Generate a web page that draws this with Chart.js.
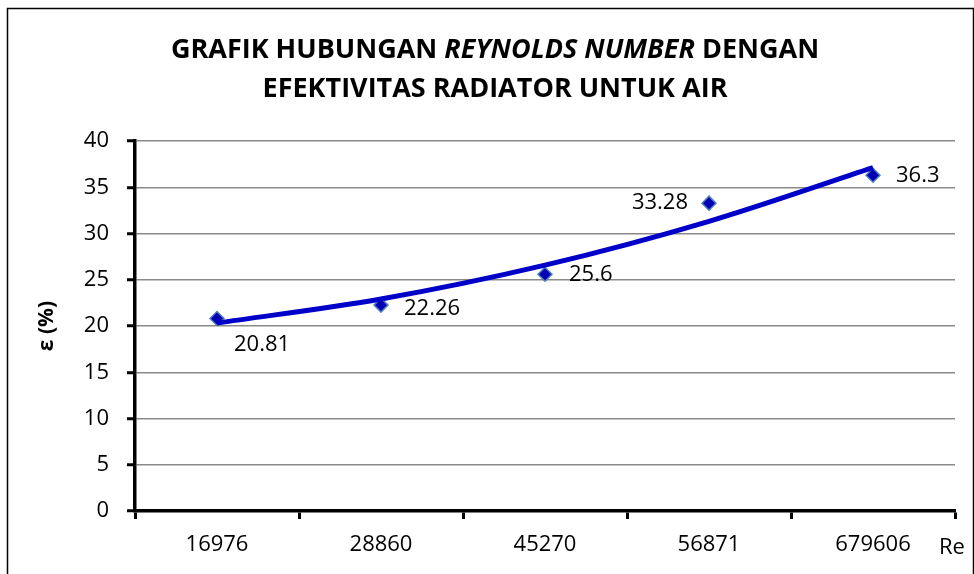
<!DOCTYPE html>
<html>
<head>
<meta charset="utf-8">
<script src="https://cdn.jsdelivr.net/npm/chart.js@4.4.1/dist/chart.umd.min.js"></script>
<style>
  html, body { margin: 0; padding: 0; background: #fff; }
  #wrap { width: 974px; height: 574px; }
</style>
</head>
<body>
<div id="wrap"><canvas id="chart" width="974" height="574"></canvas></div>
<script>
// values
var categories = ['16976', '28860', '45270', '56871', '679606'];
var effectiveness = [20.81, 22.26, 25.6, 33.28, 36.3];
// 2nd order trendline, as it shows in the picture
var trendValues = [20.32, 22.92, 26.58, 31.32, 37.12];
var yMin = 0, yMax = 40, yStep = 5;

var titleLine1 = [
    { text: 'GRAFIK HUBUNGAN ', italic: false },
    { text: 'REYNOLDS NUMBER', italic: true },
    { text: ' DENGAN', italic: false }
];
var titleLine2 = 'EFEKTIVITAS RADIATOR UNTUK AIR';
var yTitle = 'ε (%)';
var xTitle = 'Re';

// where each value label sits next to its marker
var labelSpots = [
    { dx: 17, dy: 26, align: 'left' },
    { dx: 23, dy: 4, align: 'left' },
    { dx: 24, dy: 1, align: 'left' },
    { dx: -21, dy: 0, align: 'right' },
    { dx: 23, dy: 1, align: 'left' }
];

var FONT = "'Open Sans', 'DejaVu Sans', sans-serif";

var framePlugin = {
    id: 'frame',
    beforeDraw: function (chart) {
        var ctx = chart.ctx;
        ctx.save();
        ctx.fillStyle = '#fff';
        ctx.fillRect(0, 0, chart.width, chart.height);
        ctx.strokeStyle = '#000';
        ctx.lineWidth = 1.5;
        ctx.strokeRect(7.5, 8.5, 966, 620);
        ctx.restore();
    }
};

var textPlugin = {
    id: 'texts',
    afterDraw: function (chart) {
        var ctx = chart.ctx;
        ctx.save();
        ctx.fillStyle = '#000';
        ctx.textBaseline = 'alphabetic';

        // title line 1, mixed italic
        var cx = 495;
        var widths = titleLine1.map(function (s) {
            ctx.font = (s.italic ? 'italic ' : '') + 'bold 27px ' + FONT;
            return ctx.measureText(s.text).width;
        });
        var total = widths.reduce(function (a, b) { return a + b; }, 0);
        var x = cx - total / 2;
        titleLine1.forEach(function (s, i) {
            ctx.font = (s.italic ? 'italic ' : '') + 'bold 27px ' + FONT;
            ctx.textAlign = 'left';
            ctx.fillText(s.text, x, 58);
            x += widths[i];
        });
        ctx.font = 'bold 27px ' + FONT;
        ctx.textAlign = 'center';
        ctx.fillText(titleLine2, cx, 97);

        // y axis title
        ctx.save();
        ctx.translate(47, 326);
        ctx.rotate(-Math.PI / 2);
        ctx.font = 'bold 21px ' + FONT;
        ctx.textAlign = 'center';
        ctx.textBaseline = 'middle';
        ctx.fillText(yTitle, 0, 0);
        ctx.restore();

        // x axis title
        ctx.font = '22px ' + FONT;
        ctx.textAlign = 'center';
        ctx.fillText(xTitle, 952, 554);

        // value labels
        var meta = chart.getDatasetMeta(1);
        ctx.font = '22px ' + FONT;
        ctx.textBaseline = 'middle';
        meta.data.forEach(function (pt, i) {
            var spot = labelSpots[i];
            ctx.textAlign = spot.align;
            ctx.fillText(String(effectiveness[i]), pt.x + spot.dx, pt.y + spot.dy);
        });
        ctx.restore();
    }
};

var ctx = document.getElementById('chart').getContext('2d');
var chart = new Chart(ctx, {
    type: 'line',
    data: {
        labels: categories,
        datasets: [{
            label: 'Trend',
            data: trendValues,
            borderColor: '#0000c8',
            borderWidth: 5,
            pointRadius: 0,
            cubicInterpolationMode: 'monotone',
            fill: false,
            order: 0
        }, {
            label: 'ε (%)',
            data: effectiveness,
            showLine: false,
            pointStyle: 'rectRot',
            pointRadius: 7,
            pointBackgroundColor: '#0000b4',
            pointBorderColor: '#4f81bd',
            pointBorderWidth: 1.5,
            order: 1
        }]
    },
    options: {
        responsive: false,
        animation: false,
        devicePixelRatio: 1,
        layout: { padding: { left: 0, top: 141, right: 19, bottom: 0 } },
        plugins: {
            legend: { display: false },
            tooltip: { enabled: false },
            title: { display: false }
        },
        scales: {
            x: {
                type: 'category',
                offset: true,
                afterFit: function (scale) { scale.height = 63; },
                grid: {
                    display: true,
                    offset: true,
                    drawOnChartArea: false,
                    tickLength: 8,
                    tickColor: '#000',
                    tickWidth: 3
                },
                border: { display: true, color: '#000', width: 3.5 },
                ticks: {
                    color: '#000',
                    padding: 13,
                    maxRotation: 0,
                    font: { family: FONT, size: 22 }
                }
            },
            y: {
                min: yMin,
                max: yMax,
                afterFit: function (scale) { scale.width = 135; },
                grid: {
                    color: '#8a8a8a',
                    lineWidth: 1.5,
                    tickLength: 8,
                    tickColor: '#000',
                    tickWidth: 3
                },
                border: { display: true, color: '#000', width: 3.5 },
                ticks: {
                    stepSize: yStep,
                    color: '#000',
                    padding: 18,
                    font: { family: FONT, size: 22 }
                }
            }
        }
    },
    plugins: [framePlugin, textPlugin]
});
</script>
</body>
</html>
